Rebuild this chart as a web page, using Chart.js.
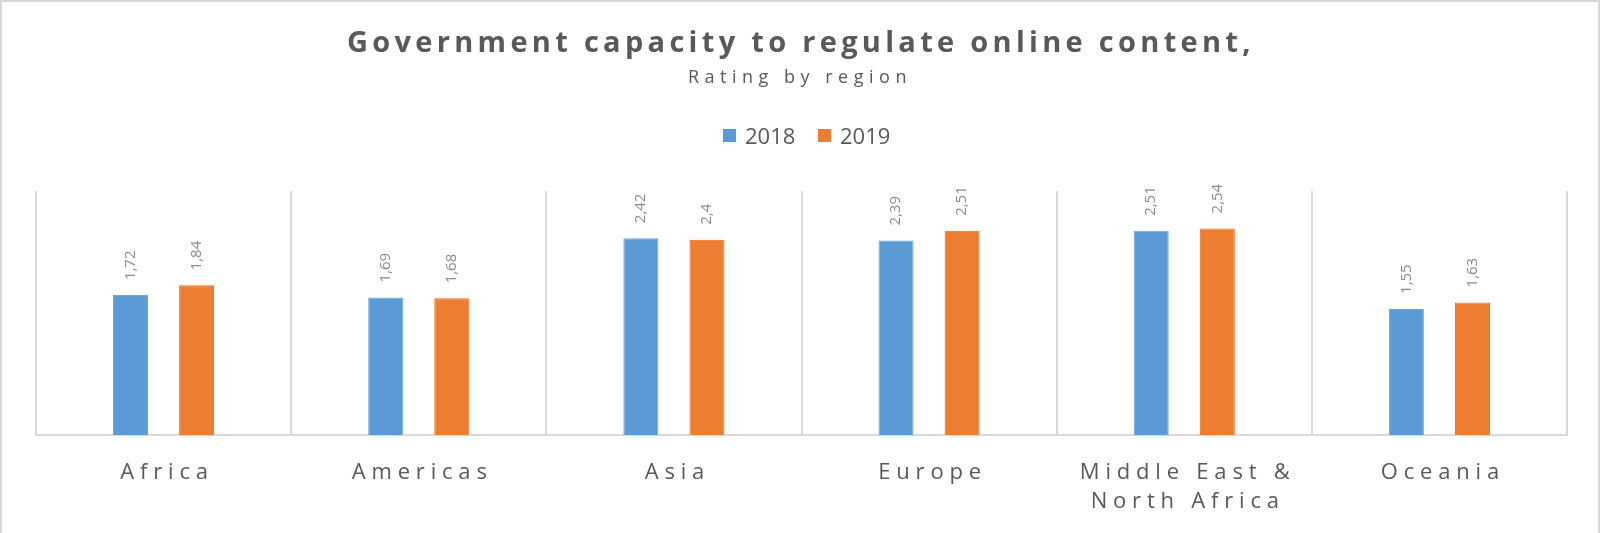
<!DOCTYPE html>
<html>
<head>
<meta charset="utf-8">
<script src="https://cdn.jsdelivr.net/npm/chart.js@4.4.0/dist/chart.umd.min.js"></script>
<style>
html,body{margin:0;padding:0;background:#fff;}
#wrap{width:1600px;height:533px;position:relative;}
</style>
</head>
<body>
<div id="wrap"><canvas id="c" width="1600" height="533"></canvas></div>
<script>
const categories = ["Africa", "Americas", "Asia", "Europe", "Middle East & North Africa", "Oceania"];
const tickLabels = [["Africa"], ["Americas"], ["Asia"], ["Europe"], ["Middle East &", "North Africa"], ["Oceania"]];
const seriesNames = ["2018", "2019"];
const values2018 = [1.72, 1.69, 2.42, 2.39, 2.51, 1.55];
const values2019 = [1.84, 1.68, 2.4, 2.51, 2.54, 1.63];
const titleText = "Government capacity to regulate online content,";
const subtitleText = "Rating by region";

const FONT = "'Open Sans', 'Noto Sans', sans-serif";
const TEXT = "#595959";

const overlay = {
  id: 'overlay',
  afterDraw(chart) {
    const ctx = chart.ctx;
    ctx.save();
    // outer border
    ctx.fillStyle = '#d9d9d9';
    ctx.fillRect(0, 0, 1600, 2);
    ctx.fillRect(0, 0, 2, 533);
    ctx.fillRect(1598, 0, 2, 533);

    // title
    ctx.fillStyle = TEXT;
    ctx.textBaseline = 'alphabetic';
    ctx.textAlign = 'left';
    ctx.font = "bold 29px " + FONT;
    ctx.letterSpacing = '4.3px';
    ctx.fillText(titleText, 347, 52);
    ctx.font = "18px " + FONT;
    ctx.letterSpacing = '5.5px';
    ctx.fillText(subtitleText, 688, 83);

    // legend
    ctx.letterSpacing = '0px';
    ctx.font = "22px " + FONT;
    const legX = [723, 818];
    chart.data.datasets.forEach((ds, i) => {
      ctx.fillStyle = ds.backgroundColor;
      ctx.fillRect(legX[i], 129, 13, 13);
      ctx.fillStyle = TEXT;
      ctx.fillText(ds.label, legX[i] + 22, 144);
    });

    // x tick labels
    const xs = chart.scales.x;
    ctx.font = "22px " + FONT;
    ctx.letterSpacing = '5.8px';
    ctx.textAlign = 'center';
    ctx.fillStyle = TEXT;
    tickLabels.forEach((lines, i) => {
      const x = xs.getPixelForValue(i);
      lines.forEach((ln, j) => {
        ctx.fillText(ln, x + 3.5, 479 + j * 29);
      });
    });

    // data labels
    ctx.letterSpacing = '0px';
    ctx.font = "15px " + FONT;
    ctx.fillStyle = '#8c8c8c';
    ctx.textAlign = 'left';
    ctx.textBaseline = 'middle';
    chart.data.datasets.forEach((ds, d) => {
      const meta = chart.getDatasetMeta(d);
      meta.data.forEach((bar, i) => {
        const txt = String(ds.data[i]).replace('.', ',');
        ctx.save();
        ctx.translate(bar.x, bar.y - 15);
        ctx.rotate(-Math.PI / 2);
        ctx.fillText(txt, 0, 0);
        ctx.restore();
      });
    });
    ctx.restore();
  }
};

new Chart(document.getElementById('c'), {
  type: 'bar',
  data: {
    labels: categories,
    datasets: [
      { label: seriesNames[0], data: values2018, backgroundColor: '#5b9bd5', borderColor: '#6aa6dc', borderWidth: 1 },
      { label: seriesNames[1], data: values2019, backgroundColor: '#ed7d31', borderColor: '#e96f1c', borderWidth: 1 }
    ]
  },
  options: {
    responsive: false,
    animation: false,
    devicePixelRatio: 1,
    categoryPercentage: 0.518,
    barPercentage: 0.53,
    layout: { padding: { left: 36, right: 33, top: 191, bottom: 98 } },
    plugins: { legend: { display: false }, title: { display: false }, tooltip: { enabled: false } },
    scales: {
      x: {
        offset: true,
        grid: { offset: true, color: '#d9d9d9', lineWidth: 2, drawTicks: false },
        border: { display: true, color: '#d9d9d9', width: 2 },
        ticks: { display: false }
      },
      y: {
        display: false,
        min: 0,
        max: 3
      }
    }
  },
  plugins: [overlay]
});
</script>
</body>
</html>
